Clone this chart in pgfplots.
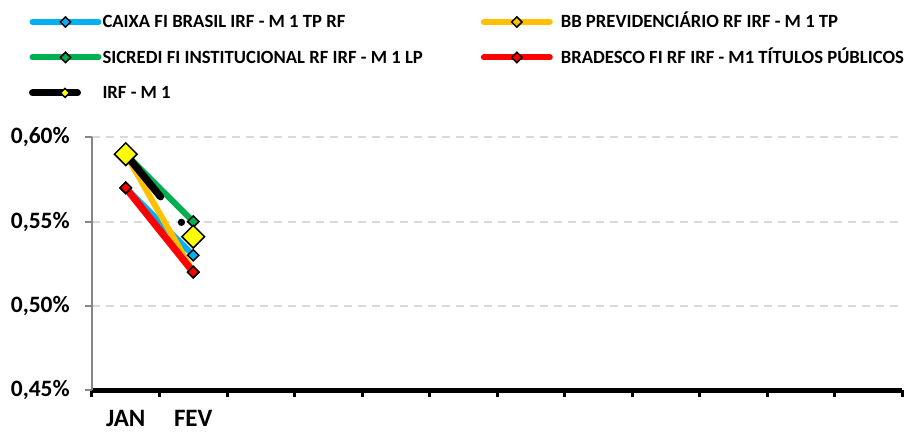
\documentclass[border=0pt]{standalone}
\usepackage{pgfplots}
\pgfplotsset{compat=1.18}
\usepackage{fontspec}
\setmainfont{Carlito}
\definecolor{cblue}{HTML}{00B0F0}
\definecolor{corange}{HTML}{FFC000}
\definecolor{cgreen}{HTML}{00B050}
\definecolor{cred}{HTML}{FF0000}
\definecolor{cyellow}{HTML}{FFFF00}
\definecolor{cgrid}{HTML}{D9D9D9}
\definecolor{caxis}{HTML}{868686}
\begin{document}
\begin{tikzpicture}
\useasboundingbox (0,0) rectangle (681pt,324.75pt);
\begin{axis}[
  at={(69pt,32.25pt)}, anchor=south west,
  scale only axis, width=607.5pt, height=189.5pt,
  xmin=-0.5, xmax=11.5, ymin=0.45, ymax=0.60,
  axis lines=left, axis line style={-},
  x axis line style={black, line width=3.75pt},
  y axis line style={caxis, line width=1.5pt},
  xtick={-0.5,0.5,...,11.5}, xticklabels={},
  extra x ticks={0,1}, extra x tick labels={JAN,FEV},
  extra x tick style={major tick length=0pt, tick style={draw=none}},
  tick align=outside, major tick length=5pt,
  x tick style={black, line width=2.25pt},
  y tick style={caxis, line width=1.5pt},
  ytick={0.45,0.50,0.55,0.60},
  ymajorgrids, grid style={cgrid, line width=1.5pt, dash pattern=on 6pt off 4.5pt},
  yticklabel={\pgfmathprintnumber[fixed,fixed zerofill,precision=2,use comma,assume math mode=true]{\tick}\%},
  yticklabel style={font=\bfseries\fontsize{17.6}{20}\selectfont, inner sep=0pt, anchor=east, xshift=-11.5pt},
  xticklabel style={font=\bfseries\fontsize{18.75}{21}\selectfont, inner sep=0pt, anchor=north, yshift=-15pt},
  clip=false,
  legend columns=2,
  legend cell align=left,
  legend style={at={(-0.07778,1.4908)}, anchor=north west, draw=none, fill=none,
    inner sep=0pt, outer sep=0pt, font=\bfseries\fontsize{14}{16}\selectfont,
    row sep=13.6pt, column sep=0pt,
    /tikz/column 1/.style={column sep=0.75pt},
    /tikz/column 2/.style={column sep=43.5pt},
    /tikz/column 3/.style={column sep=6pt},
    nodes={inner sep=0pt, text height=11pt, text depth=2pt}},
]
\addplot[cblue, line width=4.5pt, line cap=round, mark=square*, mark size=3pt,
  mark options={rotate=45, draw=black, line width=1.1pt, fill=cblue},
  legend image code/.code={\draw[solid, cblue, line width=4.5pt, line cap=round] (0pt,0pt)--(49.5pt,0pt);
    \draw[solid, black, line width=1.1pt, fill=cblue] (24.75pt,3.9pt)--(28.65pt,0pt)--(24.75pt,-3.9pt)--(20.85pt,0pt)--cycle;}]
  coordinates {(0,0.57) (1,0.53)};
\addlegendentry{CAIXA FI BRASIL IRF - M 1 TP RF}
\addplot[corange, line width=4.5pt, line cap=round, mark=square*, mark size=3pt,
  mark options={rotate=45, draw=black, line width=1.1pt, fill=corange},
  legend image code/.code={\draw[solid, corange, line width=4.5pt, line cap=round] (0pt,0pt)--(49.5pt,0pt);
    \draw[solid, black, line width=1.1pt, fill=corange] (24.75pt,3.9pt)--(28.65pt,0pt)--(24.75pt,-3.9pt)--(20.85pt,0pt)--cycle;}]
  coordinates {(0,0.59) (1,0.52)};
\addlegendentry{BB PREVIDENCIÁRIO RF IRF - M 1 TP}
\addplot[cgreen, line width=4.5pt, line cap=round, mark=square*, mark size=3pt,
  mark options={rotate=45, draw=black, line width=1.1pt, fill=cgreen},
  legend image code/.code={\draw[solid, cgreen, line width=4.5pt, line cap=round] (0pt,0pt)--(49.5pt,0pt);
    \draw[solid, black, line width=1.1pt, fill=cgreen] (24.75pt,3.9pt)--(28.65pt,0pt)--(24.75pt,-3.9pt)--(20.85pt,0pt)--cycle;}]
  coordinates {(0,0.59) (1,0.55)};
\addlegendentry{SICREDI FI INSTITUCIONAL RF IRF - M 1 LP}
\addplot[cred, line width=5.25pt, line cap=round, mark=square*, mark size=3pt,
  mark options={rotate=45, draw=black, line width=1.1pt, fill=cred},
  legend image code/.code={\draw[solid, cred, line width=4.5pt, line cap=round] (0pt,0pt)--(49.5pt,0pt);
    \draw[solid, black, line width=1.1pt, fill=cred] (24.75pt,3.9pt)--(28.65pt,0pt)--(24.75pt,-3.9pt)--(20.85pt,0pt)--cycle;}]
  coordinates {(0,0.57) (1,0.52)};
\addlegendentry{BRADESCO FI RF IRF - M1 TÍTULOS PÚBLICOS}
\addplot[black, line width=5.5pt, line cap=round, dash pattern=on 41.25pt off 24.75pt on 0pt off 24.75pt,
  mark=square*, mark size=6pt,
  mark options={solid, rotate=45, draw=black, line width=1.1pt, fill=cyellow},
  legend image code/.code={\draw[solid, black, line width=5.25pt, line cap=round] (0pt,0pt)--(33.75pt,0pt);
    \draw[solid, black, line width=1.1pt, fill=cyellow] (24.4pt,3.4pt)--(27.8pt,0pt)--(24.4pt,-3.4pt)--(21pt,0pt)--cycle;}]
  coordinates {(0,0.59) (1,0.541)};
\addlegendentry{IRF - M 1}
\end{axis}
\end{tikzpicture}
\end{document}
